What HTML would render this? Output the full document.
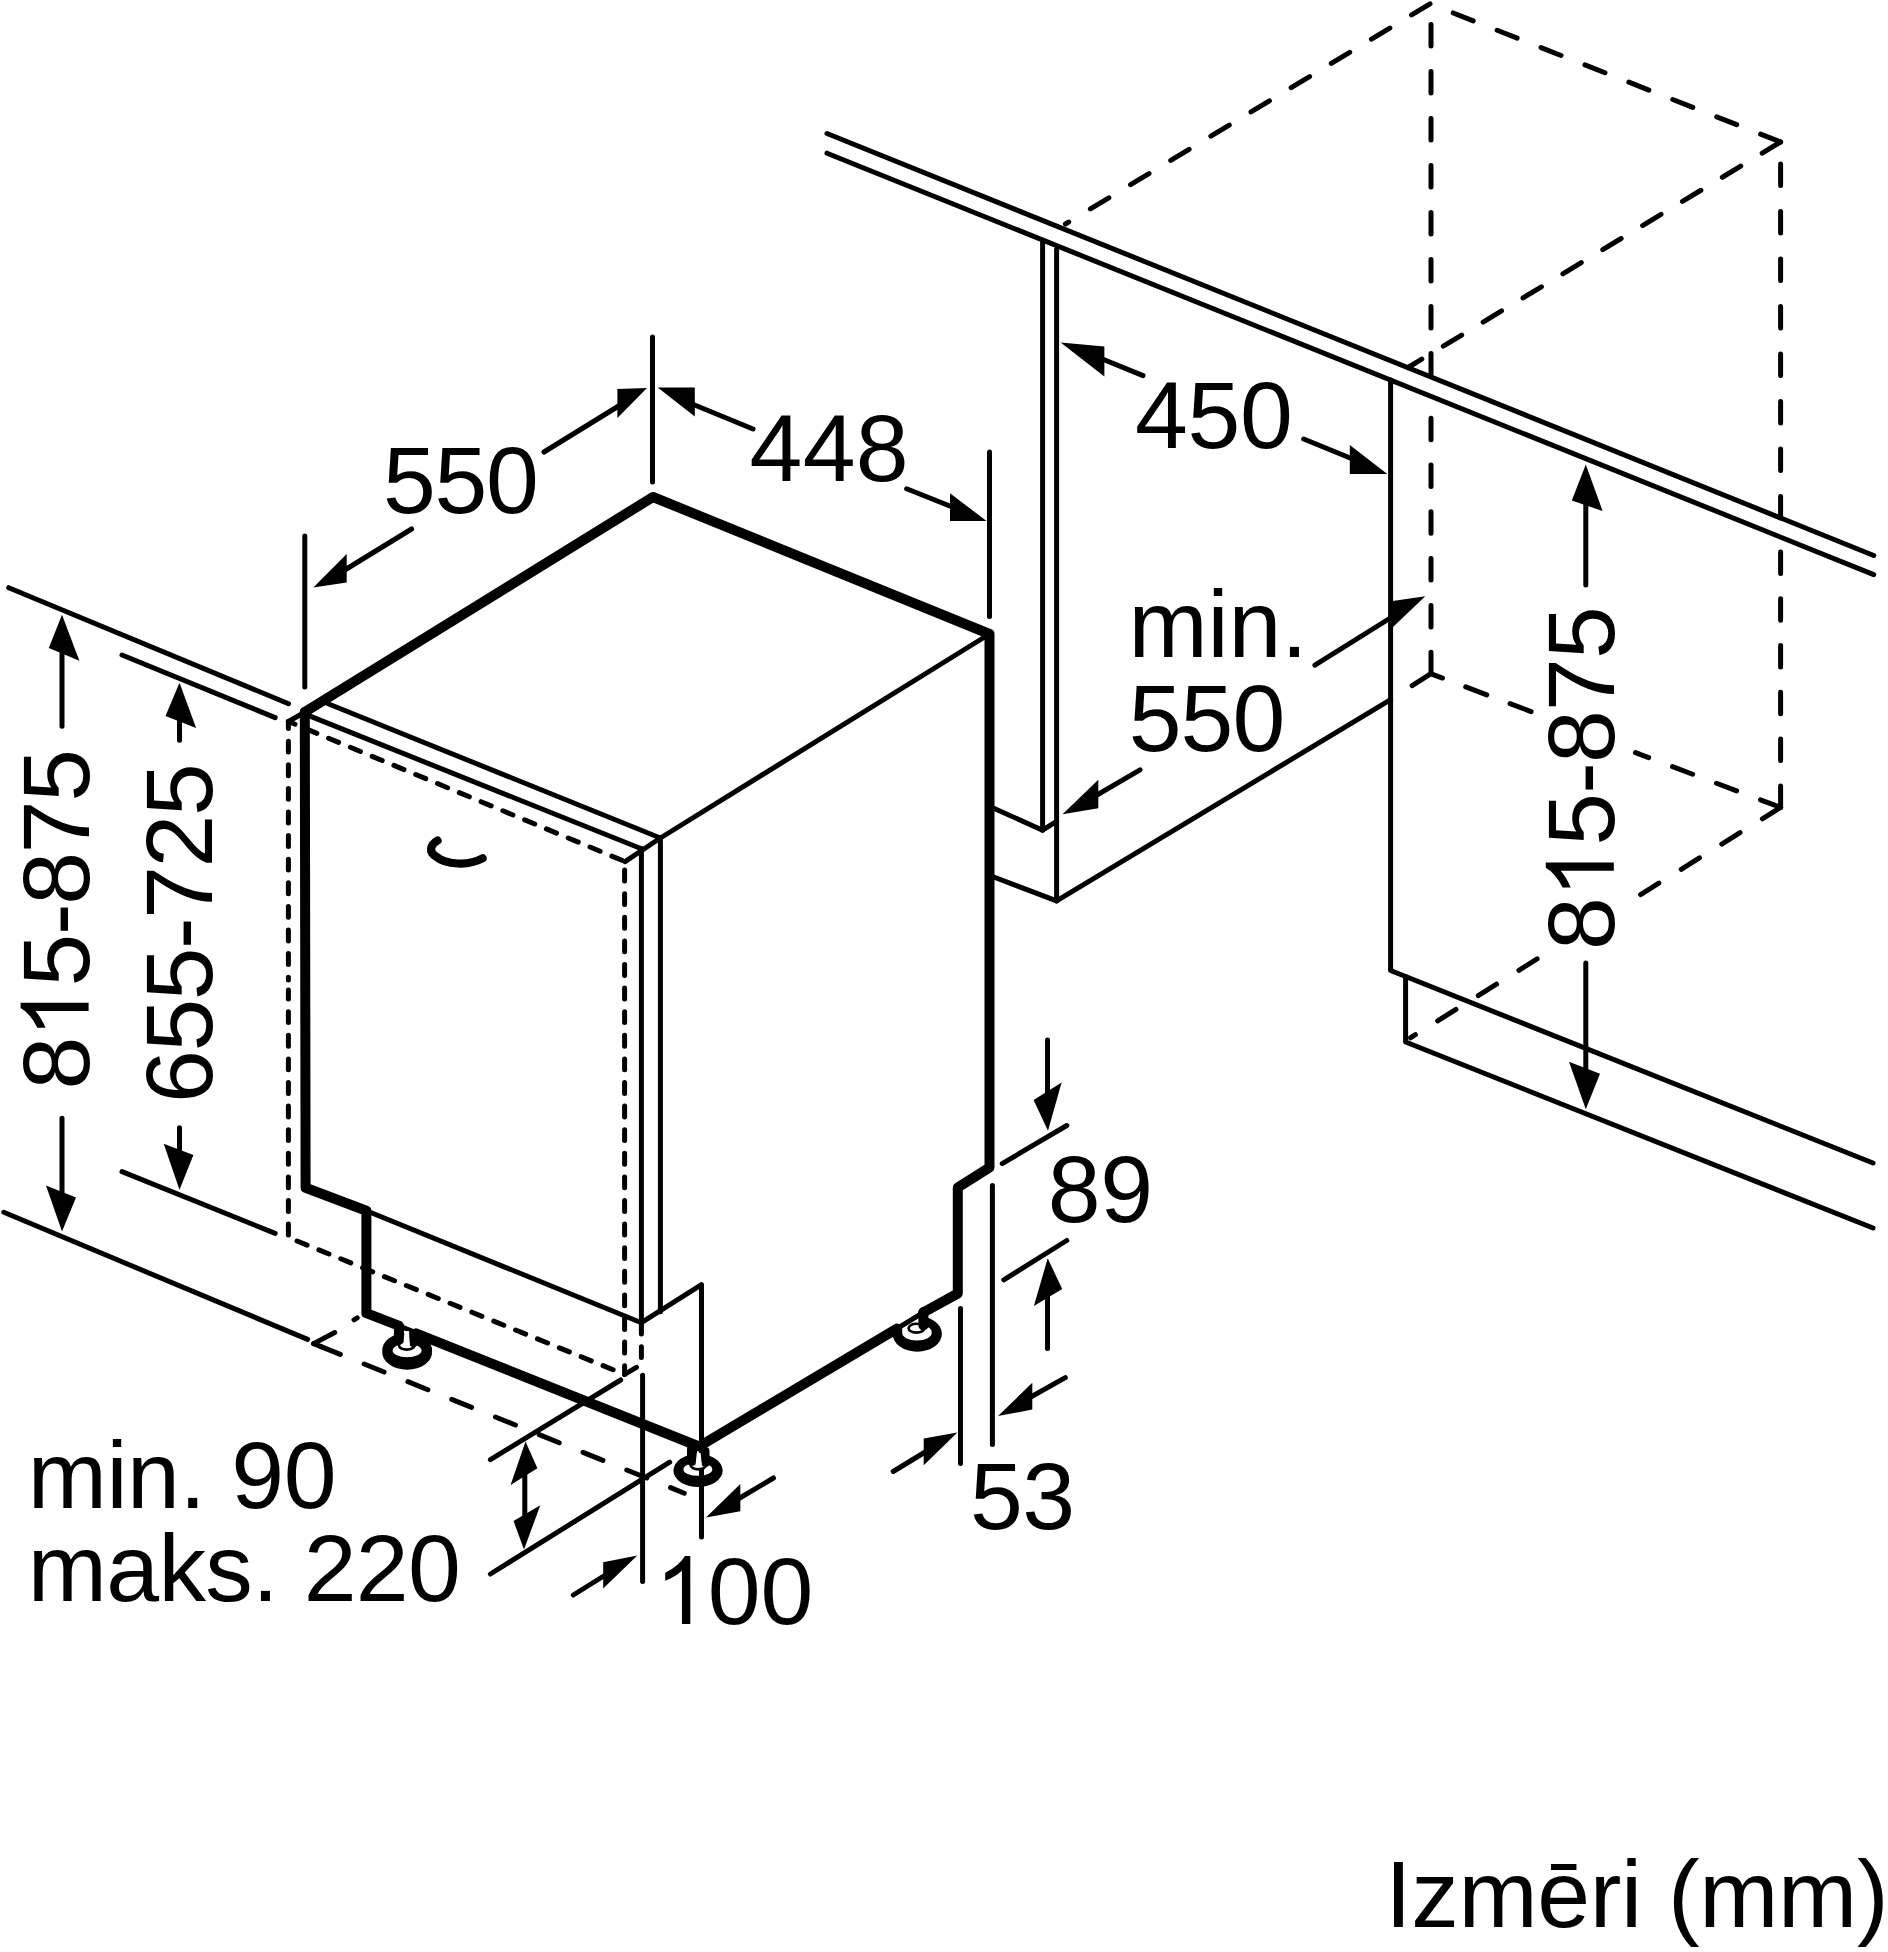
<!DOCTYPE html>
<html><head><meta charset="utf-8"><title>Izmēri</title>
<style>
html,body{margin:0;padding:0;background:#fff}
svg{display:block}
text{font-family:"Liberation Sans",sans-serif;font-size:95px;fill:#000}
path{fill:none;stroke:#000;stroke-linecap:round;stroke-linejoin:round}
.k{stroke-width:10}
.t{stroke-width:5}
.d{stroke-width:5;stroke-dasharray:21.5 25.7}
.s{stroke-width:5;stroke-dasharray:10.9 12.7}
.h{stroke-width:8.2}
.a{fill:#000;stroke:none}
</style></head><body>
<svg width="1888" height="1952" viewBox="0 0 1888 1952">
<rect width="1888" height="1952" fill="#fff"/>
<path class="t" d="M827.0,133.5 L1873.7,555.5"/>
<path class="t" d="M827.0,153.2 L1873.7,574.6"/>
<path class="t" d="M1042.6,243.0 L1042.6,830.2"/>
<path class="t" d="M1056.6,249.5 L1056.6,900.9"/>
<path class="t" d="M993.7,808.2 L1042.6,830.2 L1056.6,821.4"/>
<path class="t" d="M993.7,877.0 L1056.6,900.9 L1390.6,699.6"/>
<path class="t" d="M1390.6,380.0 L1390.6,970.5 L1873.0,1163.0"/>
<path class="t" d="M1405.6,976.5 L1405.6,1042.0 L1873.0,1228.0"/>
<path class="d" d="M1430.0,3.8 L1065.4,224.0" style="stroke-dasharray:21.5 25.4"/>
<path class="d" d="M1780.6,142.0 L1430.0,3.8" style="stroke-dasharray:21.5 25.7"/>
<path class="d" d="M1780.6,142.0 L1408.0,367.5" style="stroke-dasharray:21.5 25.1"/>
<path class="d" d="M1431.0,375.0 L1431.0,3.8" style="stroke-dasharray:21.5 25.5"/>
<path class="d" d="M1431.0,673.7 L1431.0,400.0" style="stroke-dasharray:21.5 25.3"/>
<path class="d" d="M1780.6,518.0 L1780.6,142.0" style="stroke-dasharray:21.5 26.0"/>
<path class="d" d="M1780.6,807.4 L1780.6,541.0" style="stroke-dasharray:21.5 25.3"/>
<path class="d" d="M1780.6,807.4 L1635.5,752.7" style="stroke-dasharray:21.5 25.5"/>
<path class="d" d="M1431.2,673.8 L1537.0,713.8" stroke-dashoffset="10.5" style="stroke-dasharray:22.5 24.9"/>
<path class="t" d="M1431.0,673.7 L1412.2,685.6"/>
<path class="d" d="M1780.6,807.4 L1410.4,1037.8" style="stroke-dasharray:21.5 26.3"/>
<path class="t" d="M327.5,703.5 L660.4,838.0 L989.5,634.0"/>
<path class="t" d="M307.0,714.9 L641.4,848.8"/>
<path class="t" d="M625.0,861.6 L660.4,838.0"/>
<path class="t" d="M288.4,721.5 L304.3,712.5"/>
<path class="t" d="M641.4,848.8 L641.4,1322.7"/>
<path class="t" d="M660.4,838.0 L660.4,1311.7"/>
<path class="t" d="M366.4,1210.8 L641.4,1322.7 L701.5,1284.6 L701.5,1454.0"/>
<path class="s" d="M288.4,721.5 L625.0,861.6" stroke-dashoffset="3.7"/>
<path class="s" d="M288.4,721.5 L288.4,980.0" stroke-dashoffset="3.9"/>
<path class="s" d="M288.4,1235.0 L288.4,990.0"/>
<path class="s" d="M624.6,861.6 L624.6,1374.4" stroke-dashoffset="15.1"/>
<path class="s" d="M288.4,1237.5 L624.6,1374.4" stroke-dashoffset="-9.3"/>
<path class="t" d="M624.6,1374.4 L636.4,1367.4"/>
<path class="s" d="M641.4,1323.1 L641.4,1359.0"/>
<path class="h" d="M437.5,840.5 C430,845 428.5,852 436,856.5 C445.5,864.5 468,866.5 482.6,858.3"/>
<path d="M382.3,1351.3 A24.8,17.3 0 1 0 432.0,1351.3 A24.8,17.3 0 1 0 382.3,1351.3Z" style="fill:#fff;stroke:none"/>
<path d="M382.3,1351.3 A24.9,17.3 0 1 0 432.0,1351.3 A24.9,17.3 0 1 0 382.3,1351.3Z M392.6,1350.5 A14.5,6.7 0 1 0 421.6,1350.5 A14.5,6.7 0 1 0 392.6,1350.5Z" style="fill:#000;fill-rule:evenodd;stroke:none"/>
<ellipse cx="406.7" cy="1345.2" rx="7.8" ry="4.4" fill="#fff" stroke="#000" stroke-width="2.6"/>
<path d="M892.6,1333.8 A24.6,17.8 0 1 0 941.9,1333.8 A24.6,17.8 0 1 0 892.6,1333.8Z" style="fill:#fff;stroke:none"/>
<path d="M892.6,1333.8 A24.6,17.8 0 1 0 941.9,1333.8 A24.6,17.8 0 1 0 892.6,1333.8Z M902.3,1332.6 A14.7,7.3 0 1 0 931.6,1332.6 A14.7,7.3 0 1 0 902.3,1332.6Z" style="fill:#000;fill-rule:evenodd;stroke:none"/>
<path d="M673.4,1470.5 A24.6,16.5 0 1 0 722.7,1470.5 A24.6,16.5 0 1 0 673.4,1470.5Z" style="fill:#fff;stroke:none"/>
<path d="M673.4,1470.5 A24.6,16.5 0 1 0 722.7,1470.5 A24.6,16.5 0 1 0 673.4,1470.5Z M683.4,1469.4 A14.4,6.4 0 1 0 712.3,1469.4 A14.4,6.4 0 1 0 683.4,1469.4Z" style="fill:#000;fill-rule:evenodd;stroke:none"/>
<ellipse cx="698.3" cy="1465.0" rx="7.8" ry="4.4" fill="#fff" stroke="#000" stroke-width="2.6"/>
<path d="M890,1333 L917.2,1316.2 L917.2,1300 L890,1316Z M901.8,1327.5 L919.3,1316.3 L919.3,1327 L907.5,1327 L902.6,1331.5Z" style="fill:#fff;stroke:none"/>
<ellipse cx="916.4" cy="1328.2" rx="7.8" ry="4.4" fill="#fff" stroke="#000" stroke-width="2.6"/>
<path class="k" d="M304.8,712.0 L653.0,497.0 L989.5,634.0 L989.5,1167.6 L957.8,1187.6 L957.8,1293.5 L923.4,1312.3"/>
<path class="t" d="M923.4,1312.3 L897.0,1328.6"/>
<path class="k" d="M897.0,1328.6 L699.0,1446.5 L416.0,1333.3"/>
<path class="k" d="M398.6,1325.6 L366.4,1313.2 L366.4,1210.8 L305.6,1187.8 L304.8,712.0"/>
<path class="t" d="M400.0,1326.2 L415.0,1332.2"/>
<path class="k" d="M398.9,1326.0 L398.9,1340.0"/>
<path d="M413.4,1334 L413.4,1343.5" style="stroke-width:7.5"/>
<path d="M404.4,1331 L408.9,1331 L409.8,1344.5 L403.4,1344.5Z" style="fill:#fff;stroke:none"/>
<path class="k" d="M923.4,1312.3 L923.4,1325.5"/>
<path class="k" d="M692.0,1449.0 L692.0,1461.0"/>
<path d="M705.5,1451 L705.5,1463" style="stroke-width:8"/>
<path d="M696.8,1453 L700.6,1453 L701.8,1464.5 L695.6,1464.5Z" style="fill:#fff;stroke:none"/>
<path class="t" d="M652.5,337.0 L652.5,482.0"/>
<path class="t" d="M304.8,536.0 L304.8,687.0"/>
<path class="t" d="M989.5,452.0 L989.5,616.5"/>
<path class="t" d="M544.0,452.0 L630.0,399.0"/>
<polygon class="a" points="647.0,388.0 617.4,389.0 617.4,418.0"/>
<path class="t" d="M411.6,529.0 L335.0,576.0"/>
<polygon class="a" points="313.3,587.4 346.7,554.0 346.7,582.5"/>
<path class="t" d="M753.0,429.0 L680.0,399.0"/>
<polygon class="a" points="657.7,387.4 694.8,387.4 694.8,416.5"/>
<path class="t" d="M906.6,488.8 L960.0,510.0"/>
<polygon class="a" points="986.6,521.0 950.0,521.0 950.0,493.3"/>
<path class="t" d="M1143.0,375.6 L1090.0,354.0"/>
<polygon class="a" points="1060.6,342.6 1104.4,346.4 1104.4,376.6"/>
<path class="t" d="M1303.7,439.0 L1360.0,462.0"/>
<polygon class="a" points="1387.3,474.0 1349.8,474.0 1349.8,445.0"/>
<path class="t" d="M1314.9,665.2 L1400.0,612.0"/>
<polygon class="a" points="1425.3,596.3 1390.9,601.2 1390.9,629.0"/>
<path class="t" d="M1140.0,769.8 L1085.0,802.0"/>
<polygon class="a" points="1062.5,814.3 1098.3,779.8 1098.3,808.2"/>
<path class="t" d="M1585.8,500.0 L1585.8,585.0"/>
<polygon class="a" points="1585.8,464.6 1571.8,500.5 1602.6,511.0"/>
<path class="t" d="M1585.8,963.0 L1585.8,1070.0"/>
<polygon class="a" points="1585.8,1109.3 1569.0,1061.7 1600.0,1073.7"/>
<path class="t" d="M8.7,587.7 L288.5,703.7"/>
<path class="t" d="M122.0,655.0 L275.2,717.6"/>
<path class="t" d="M122.0,1171.6 L275.2,1233.4"/>
<path class="t" d="M3.8,1212.3 L307.6,1339.4"/>
<path class="t" d="M62.0,650.0 L62.0,726.3"/>
<polygon class="a" points="62.0,614.8 48.8,648.0 79.4,660.8"/>
<path class="t" d="M179.5,718.0 L179.5,740.3"/>
<polygon class="a" points="179.5,682.8 165.5,715.9 196.1,728.0"/>
<path class="t" d="M62.0,1118.3 L62.0,1195.0"/>
<polygon class="a" points="62.0,1231.5 46.0,1185.5 76.0,1197.4"/>
<path class="t" d="M179.5,1127.7 L179.5,1150.0"/>
<polygon class="a" points="179.5,1189.7 163.7,1143.7 193.4,1154.9"/>
<path class="d" d="M313.6,1343.6 L684.3,1493.2" stroke-dashoffset="-7.3"/>
<path class="t" d="M313.6,1343.6 L322.0,1347.0"/>
<path class="t" d="M313.6,1343.6 L334.7,1332.5"/>
<path class="t" d="M354.0,1319.8 L357.2,1317.9"/>
<path class="t" d="M490.4,1459.6 L620.7,1380.0"/>
<path class="t" d="M490.4,1574.0 L669.7,1462.2"/>
<path class="t" d="M524.8,1470.0 L524.8,1522.0"/>
<polygon class="a" points="525.5,1441.6 510.6,1485.0 537.4,1468.2"/>
<polygon class="a" points="524.0,1549.6 513.5,1521.0 540.3,1505.3"/>
<path class="t" d="M642.6,1375.2 L642.6,1581.5"/>
<path class="t" d="M701.5,1470.0 L701.5,1537.0"/>
<path class="t" d="M573.3,1595.0 L615.0,1569.0"/>
<polygon class="a" points="637.3,1555.4 603.2,1562.3 603.2,1588.4"/>
<path class="t" d="M773.5,1478.0 L728.0,1505.0"/>
<polygon class="a" points="706.0,1517.6 740.3,1484.0 740.3,1511.3"/>
<path class="t" d="M960.5,1308.5 L960.5,1463.5"/>
<path class="t" d="M992.4,1185.4 L992.4,1444.5"/>
<path class="t" d="M893.2,1471.5 L935.0,1446.0"/>
<polygon class="a" points="957.4,1432.5 923.7,1438.6 923.7,1465.2"/>
<path class="t" d="M1065.3,1377.6 L1020.0,1403.0"/>
<polygon class="a" points="998.0,1416.0 1032.3,1382.8 1032.3,1409.6"/>
<path class="t" d="M1002.2,1163.6 L1066.8,1125.5"/>
<path class="t" d="M1003.8,1279.8 L1066.8,1240.5"/>
<path class="t" d="M1047.5,1040.0 L1047.5,1095.0"/>
<polygon class="a" points="1048.0,1130.7 1033.6,1100.0 1061.6,1082.4"/>
<path class="t" d="M1047.5,1295.0 L1047.5,1348.4"/>
<polygon class="a" points="1047.7,1258.3 1033.9,1306.0 1062.2,1289.0"/>
<text x="383.0" y="513.4" style="letter-spacing:-1.3px">550</text>
<text x="749.5" y="480.5" style="letter-spacing:0.3px">448</text>
<text x="1135.0" y="447.5" style="letter-spacing:-0.3px">450</text>
<text x="1128.4" y="657.0" style="letter-spacing:-0.1px">min.</text>
<text x="1128.7" y="750.5" style="letter-spacing:-0.9px">550</text>
<text x="27.8" y="1507.5" style="letter-spacing:-0.47px">min. 90</text>
<text x="27.8" y="1601.3" style="letter-spacing:-0.65px">maks. 220</text>
<g transform="translate(654.9,1624.0)"><path class="a" transform="translate(0.00,0) scale(0.046387,-0.046387)" d="M763 0H583V1147Q518 1085 412.5 1023Q307 961 223 930V1104Q374 1175 487 1276Q600 1377 647 1466H763Z"/><text x="52.83" y="0" style="letter-spacing:0px">00</text></g>
<text x="970.0" y="1529.4" style="letter-spacing:-0.6px">53</text>
<text x="1047.8" y="1222.0" style="letter-spacing:-0.3px">89</text>
<text x="1385.2" y="1926.7" style="letter-spacing:-0.32px">Izmēri (mm)</text>
<g transform="translate(88.6,1089.6) rotate(-90)"><text x="0.00" y="0" style="letter-spacing:-1.32px">8</text><path class="a" transform="translate(51.51,0) scale(0.046387,-0.046387)" d="M763 0H583V1147Q518 1085 412.5 1023Q307 961 223 930V1104Q374 1175 487 1276Q600 1377 647 1466H763Z"/><text x="103.03" y="0" style="letter-spacing:-1.32px">5-875</text></g>
<text transform="translate(211.5,1102.9) rotate(-90)" style="letter-spacing:-1.5px">655-725</text>
<rect x="1541" y="603" width="80" height="350" fill="#fff"/>
<g transform="translate(1613.8,949.9) rotate(-90)"><text x="0.00" y="0" style="letter-spacing:-0.8px">8</text><path class="a" transform="translate(52.03,0) scale(0.046387,-0.046387)" d="M763 0H583V1147Q518 1085 412.5 1023Q307 961 223 930V1104Q374 1175 487 1276Q600 1377 647 1466H763Z"/><text x="104.07" y="0" style="letter-spacing:-0.8px">5-875</text></g>
</svg>
</body></html>
